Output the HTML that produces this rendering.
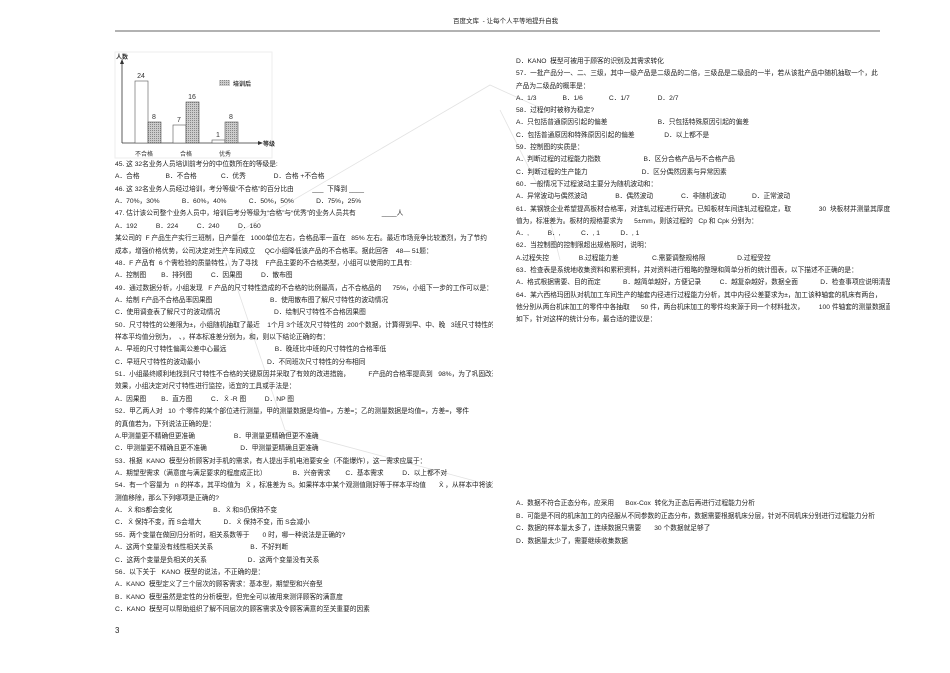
<!DOCTYPE html>
<html><head><meta charset="utf-8"><style>
body{margin:0;width:950px;height:673px;background:#fff;position:relative;overflow:hidden;font-family:"Liberation Sans","Noto Sans CJK SC",sans-serif;color:#222;}
.l{position:absolute;font-size:6.7px;white-space:pre;line-height:9px;overflow:hidden;}
</style></head><body>
<svg width="950" height="673" style="position:absolute;left:0;top:0">
<defs><pattern id="h" width="2" height="2" patternUnits="userSpaceOnUse"><rect width="2" height="2" fill="#ccc"/><rect width="1" height="1" fill="#888"/></pattern></defs>
<line x1="115" y1="31" x2="880" y2="31" stroke="#666" stroke-width="1"/>
<g stroke="#e2e2e2" stroke-width="0.8" fill="none">
<polyline points="225,240 490,85 545,110"/>
<polyline points="220,237 285,430 490,485"/>
<polyline points="500,110 545,200 560,260"/>
</g>
<rect x="115" y="52" width="157" height="106" fill="none" stroke="#eee"/>
<line x1="122" y1="143" x2="262" y2="143" stroke="#333" stroke-width="0.8"/>
<line x1="122" y1="143" x2="122" y2="62" stroke="#333" stroke-width="0.8"/>
<polygon points="120,64 124,64 122,59" fill="#333"/>
<polygon points="258,141 258,145 263,143" fill="#333"/>
<g stroke="#555" stroke-width="0.6">
<rect x="135" y="81" width="13" height="62" fill="#fff"/>
<rect x="148" y="122" width="13" height="21" fill="url(#h)"/>
<rect x="173" y="125" width="13" height="18" fill="#fff"/>
<rect x="186" y="102" width="13" height="41" fill="url(#h)"/>
<rect x="212" y="140" width="13" height="3" fill="#fff"/>
<rect x="225" y="122" width="13" height="21" fill="url(#h)"/>
<rect x="219" y="80" width="11" height="6" fill="url(#h)" stroke="none"/>
</g>
<g font-size="7" fill="#333" font-family="Liberation Sans,sans-serif" text-anchor="middle">
<text x="141" y="78">24</text><text x="154" y="119">8</text><text x="179" y="122">7</text><text x="192" y="99">16</text><text x="218" y="137">1</text><text x="231" y="119">8</text>
</g>
<g font-size="6" fill="#333" font-family="Liberation Sans,Noto Sans CJK SC,sans-serif">
<text x="116" y="59" font-weight="bold">人数</text>
<text x="233" y="86" font-weight="bold">培训后</text>
<text x="263" y="146" font-weight="bold">等级</text>
<text x="135" y="156">不合格</text><text x="180" y="156">合格</text><text x="219" y="156">优秀</text>
</g>
</svg>
<div class="l" style="left:453px;top:17px;font-size:6.5px">百度文库  - 让每个人平等地提升自我</div>

<div class="l" style="left:115px;top:159px;width:378px;line-height:12.36px">45. 这 32名业务人员培训前考分的中位数所在的等级是:
A．合格              B．不合格             C．优秀               D．合格 +不合格
46. 这 32名业务人员经过培训，考分等级“不合格”的百分比由          ___  下降到 ____
A．70%，30%            B．60%，40%            C．50%，50%            D．75%，25%
47. 估计该公司整个业务人员中，培训后考分等级为“合格”与“优秀”的业务人员共有              ____人
A．192          B．224          C．240          D．160
某公司的  F 产品生产实行三班制，日产量在   1000单位左右，合格品率一直在   85% 左右。最近市场竞争比较激烈，为了节约
成本，增强价格优势，公司决定对生产车间成立     QC小组降低该产品的不合格率。据此回答    48— 51题：
48．F 产品有  6 个需检验的质量特性，为了寻找    F产品主要的不合格类型，小组可以使用的工具有:
A．控制图        B．排列图          C．因果图          D．散布图
49．通过数据分析，小组发现   F 产品的尺寸特性造成的不合格的比例最高，占不合格品的      75%，小组下一步的工作可以是：
A．绘制 F产品不合格品率因果图                               B．使用散布图了解尺寸特性的波动情况
C．使用调查表了解尺寸的波动情况                             D．绘制尺寸特性不合格因果图
50．尺寸特性的公差限为±，小组随机抽取了最近    1个月 3个班次尺寸特性的  200个数据，计算得到早、中、晚   3班尺寸特性的
样本平均值分别为，  、，样本标准差分别为，和，则以下结论正确的有：
A．早班的尺寸特性偏离公差中心最远                          B．晚班比中班的尺寸特性的合格率低
C．早班尺寸特性的波动最小                                    D．不同班次尺寸特性的分布相同
51．小组最终顺利地找到尺寸特性不合格的关键原因并采取了有效的改进措施，          F产品的合格率提高到   98%，为了巩固改进
效果，小组决定对尺寸特性进行监控，适宜的工具或手法是：
A．因果图        B．直方图          C． X̄ -R 图          D．NP 图
52．甲乙两人对   10  个零件的某个部位进行测量，甲的测量数据是均值=，方差=；乙的测量数据是均值=，方差=，零件
的真值若为，下列说法正确的是：
A.甲测量更不精确但更准确                     B．甲测量更精确但更不准确
C．甲测量更不精确且更不准确                  D．甲测量更精确且更准确
53．根据  KANO  模型分析顾客对手机的需求，有人提出手机电池要安全（不能爆炸），这一需求应属于：
A．期望型需求（满意度与满足要求的程度成正比）              B．兴奋需求        C．基本需求          D．以上都不对
54．有一个容量为   n 的样本，其平均值为   X̄ ，标准差为 S。如果样本中某个观测值刚好等于样本平均值       X̄ ，从样本中将该观
测值移除，那么下列哪项是正确的?
A． X̄ 和S都会变化                      B． X̄ 和S仍保持不变
C． X̄ 保持不变，而 S会增大            D． X̄ 保持不变，而 S会减小
55．两个变量在做回归分析时，相关系数等于       0 时，哪一种说法是正确的?
A．这两个变量没有线性相关关系                    B．不好判断
C．这两个变量是负相关的关系                      D．这两个变量没有关系
56．以下关于   KANO  模型的说法，不正确的是：
A．KANO  模型定义了三个层次的顾客需求：基本型，期望型和兴奋型
B．KANO  模型虽然是定性的分析模型，但完全可以被用来测评顾客的满意度
C．KANO  模型可以帮助组织了解不同层次的顾客需求及令顾客满意的至关重要的因素</div>
<div class="l" style="left:115px;top:626px;font-size:8px">3</div>

<div class="l" style="left:516px;top:56px;width:374px;line-height:12.3px">D．KANO  模型可被用于顾客的识别及其需求转化
57．一批产品分一、二、三级，其中一级产品是二级品的二倍，三级品是二级品的一半，若从该批产品中随机抽取一个，此
产品为二级品的概率是：
A．1/3              B．1/6              C．1/7               D．2/7
58．过程何时被称为稳定?
A．只包括普通原因引起的偏差                           B．只包括特殊原因引起的偏差
C．包括普通原因和特殊原因引起的偏差                D．以上都不是
59．控制图的实质是：
A．判断过程的过程能力指数                       B．区分合格产品与不合格产品
C．判断过程的生产能力                             D．区分偶然因素与异常因素
60．一般情况下过程波动主要分为随机波动和：
A．异常波动与偶然波动               B．偶然波动               C．非随机波动              D．正常波动
61．某钢铁企业希望提高板材合格率，对连轧过程进行研究。已知板材车间连轧过程稳定，取               30  块板材并测量其厚度，均
值为，标准差为。板材的规格要求为      5±mm，则该过程的   Cp 和 Cpk 分别为：
A．,          B．,           C．, 1           D．, 1
62．当控制图的控制限超出规格限时，说明：
A.过程失控                B.过程能力差                  C.需要调整规格限                 D.过程受控
63．检查表是系统地收集资料和累积资料，并对资料进行粗略的整理和简单分析的统计图表，以下描述不正确的是：
A．格式根据需要、目的而定            B．越简单越好，方便记录          C．越复杂越好，数据全面            D．检查事项应说明清楚
64．某六西格玛团队对机加工车间生产的轴套内径进行过程能力分析，其中内径公差要求为±，加工该种轴套的机床有两台，
他分别从两台机床加工的零件中各抽取      50 件，两台机床加工的零件均来源于同一个材料批次，        100 件轴套的测量数据直方图
如下，针对这样的统计分布，最合适的建议是：</div>

<div class="l" style="left:516px;top:498px;width:374px;line-height:12.5px">A．数据不符合正态分布，应采用      Box-Cox  转化为正态后再进行过程能力分析
B．可能是不同的机床加工的内径服从不同参数的正态分布，数据需要根据机床分层，针对不同机床分别进行过程能力分析
C．数据的样本量太多了，连续数据只需要       30 个数据就足够了
D．数据量太少了，需要继续收集数据</div>
</body></html>
